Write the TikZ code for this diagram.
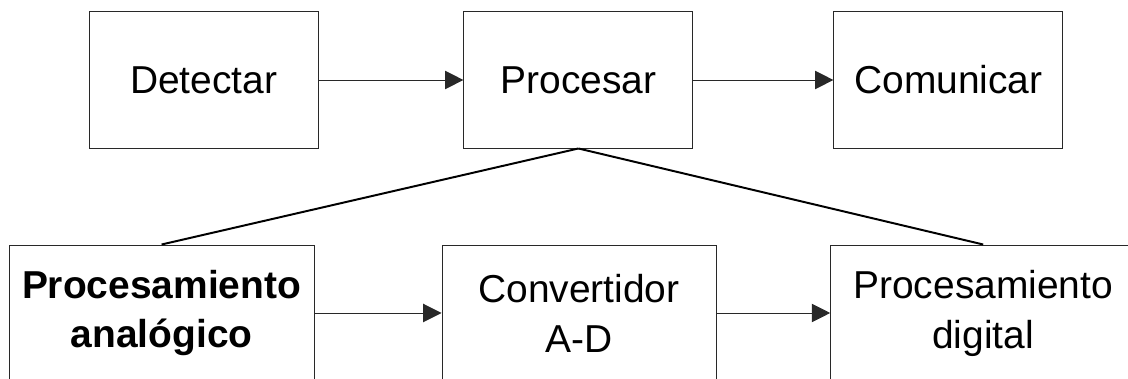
\documentclass[tikz,border=0pt]{standalone}
\usepackage{fontspec}
\setmainfont{Liberation Sans}
\usetikzlibrary{arrows.meta}
\definecolor{myedge}{RGB}{40,40,40}
\tikzset{
  block/.style={rectangle, draw=myedge, fill=white,
    minimum width=5.725cm, minimum height=3.4cm, align=center,
    font=\fontsize{27.7}{35.5}\selectfont, inner sep=0pt, line width=0.7pt},
  wblock/.style={block, minimum width=7.625cm},
  mblock/.style={block, minimum width=6.85cm},
  arrow/.style={-{Triangle[length=0.46cm, width=0.46cm]}, line width=0.7pt, color=myedge},
  line/.style={line width=1.4pt, color=black}
}

\begin{document}
\begin{tikzpicture}
  \clip (0,0) rectangle (28.2,9.475);
  % Top chain
  \node[block] (detectar) at (5.09,7.475) {Detectar};
  \node[block] (procesar) at (14.46,7.475) {Procesar};
  \node[block] (comunicar) at (23.71,7.475) {Comunicar};
  % Processing stages
  \node[wblock] (analog) at (4.04,1.65) {\textbf{Procesamiento}\\\textbf{analógico}};
  \node[mblock] (adc) at (14.475,1.65) {Convertidor\\A-D};
  \node[wblock] (digital) at (24.58,1.65) {Procesamiento\\digital};
  % Arrows
  \draw[arrow] (detectar) -- (procesar);
  \draw[arrow] (procesar) -- (comunicar);
  \draw[arrow] (analog) -- (adc);
  \draw[arrow] (adc) -- (digital);
  % Expansion lines
  \draw[line] (procesar.south) -- (analog.north);
  \draw[line] (procesar.south) -- (digital.north);
\end{tikzpicture}
\end{document}
